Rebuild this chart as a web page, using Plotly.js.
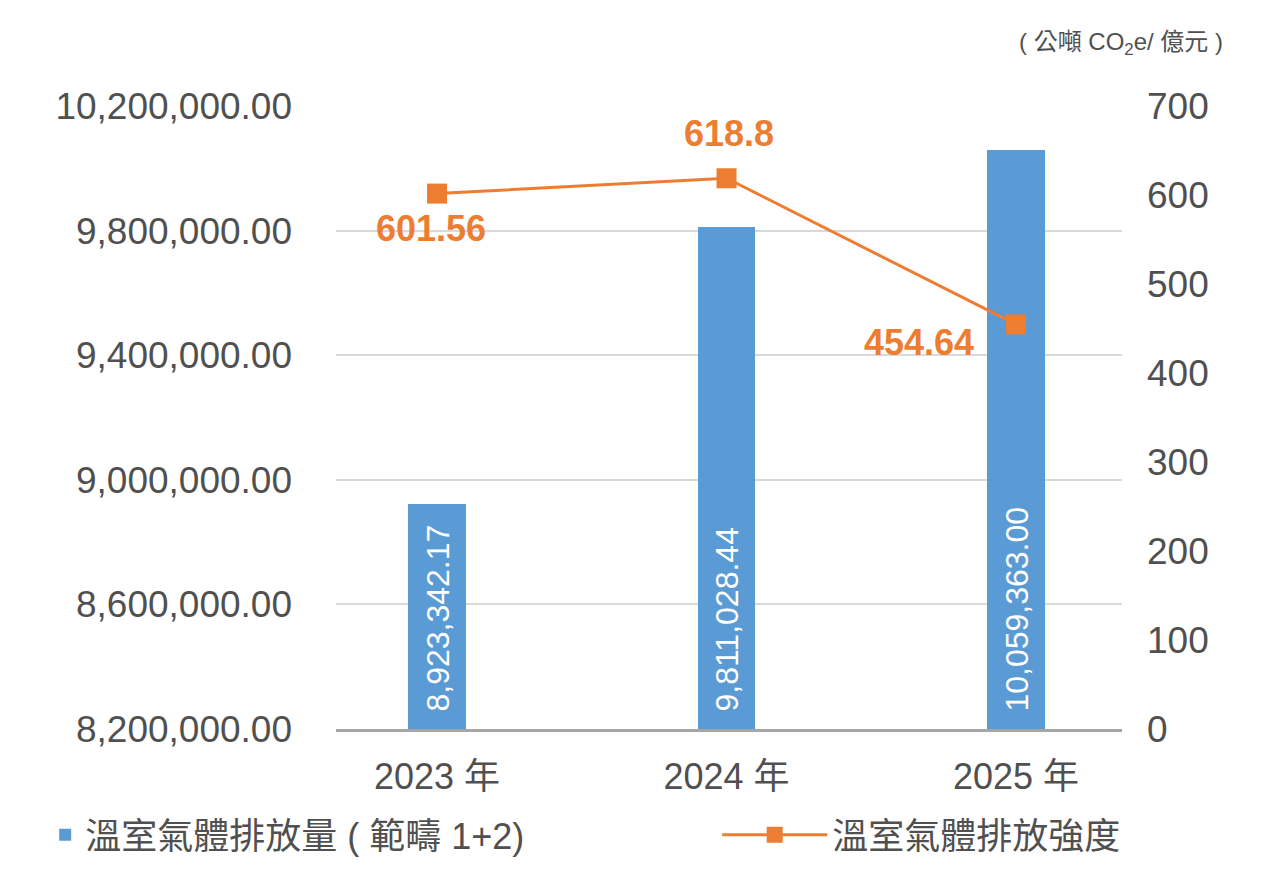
<!DOCTYPE html>
<html>
<head>
<meta charset="utf-8">
<script src="https://cdn.plot.ly/plotly-3.0.1.min.js"></script>
<style>html,body{margin:0;padding:0;background:#fff;}#chart{width:1268px;height:884px;}</style>
</head>
<body>
<div id="chart"></div>
<script>
const categories = ['2023 年', '2024 年', '2025 年'];
const emissions = [8923342.17, 9811028.44, 10059363.00];
const emissionLabels = ['8,923,342.17', '9,811,028.44', '10,059,363.00'];
const intensity = [601.56, 618.8, 454.64];
const intensityLabels = ['601.56', '618.8', '454.64'];
const leftTicks = [8200000, 8600000, 9000000, 9400000, 9800000, 10200000];
const seriesNames = ['溫室氣體排放量 ( 範疇 1+2)', '溫室氣體排放強度'];
const unitLabel = '( 公噸 CO<sub>2</sub>e/ 億元 )';

const FONT = "'Liberation Sans', Arial, 'Noto Sans CJK TC', sans-serif";
const GREY = '#505050';
const ORANGE = '#ed7d31';
const AXIS_MIN = leftTicks[0];
const AXIS_MAX = leftTicks[leftTicks.length - 1];

const bars = {
  type: 'bar',
  name: seriesNames[0],
  legend: 'legend',
  x: categories,
  base: categories.map(() => AXIS_MIN),
  y: emissions.map(v => v - AXIS_MIN),
  width: 0.2,
  marker: {color: '#5b9bd5'},
  hoverinfo: 'skip'
};

const line = {
  type: 'scatter',
  mode: 'lines+markers',
  name: seriesNames[1],
  legend: 'legend2',
  x: categories,
  y: intensity,
  yaxis: 'y2',
  line: {color: ORANGE, width: 3},
  marker: {symbol: 'square', size: 20, color: ORANGE},
  hoverinfo: 'skip'
};

const barAnnotations = categories.map((c, i) => ({
  x: c, y: AXIS_MIN, xref: 'x', yref: 'y',
  text: emissionLabels[i],
  showarrow: false,
  textangle: -90,
  xanchor: 'center', yanchor: 'bottom',
  yshift: 15,
  font: {family: FONT, size: 32, color: '#ffffff'}
}));

const labelShifts = [[-6, -35], [2, 45], [-97, -18]];
const lineAnnotations = categories.map((c, i) => ({
  x: c, y: intensity[i], xref: 'x', yref: 'y2',
  text: intensityLabels[i],
  showarrow: false,
  xanchor: 'center', yanchor: 'middle',
  xshift: labelShifts[i][0], yshift: labelShifts[i][1],
  font: {family: FONT, size: 36, color: ORANGE, weight: 'bold'}
}));

const layout = {
  width: 1268,
  height: 884,
  margin: {l: 336, r: 146, t: 106, b: 155},
  paper_bgcolor: '#ffffff',
  plot_bgcolor: '#ffffff',
  font: {family: FONT, size: 36, color: GREY},
  showlegend: true,
  bargap: 0,
  xaxis: {
    type: 'category',
    range: [-0.349, 2.366],
    showgrid: false,
    showline: true,
    linecolor: '#a6a6a6',
    linewidth: 3,
    ticks: '',
    ticklabelstandoff: 14,
    tickfont: {family: FONT, size: 36, color: GREY},
    fixedrange: true
  },
  yaxis: {
    range: [AXIS_MIN, AXIS_MAX],
    tickvals: leftTicks,
    tickformat: ',.2f',
    showgrid: true,
    gridcolor: '#d9d9d9',
    gridwidth: 2,
    zeroline: false,
    showline: false,
    ticks: '',
    ticklabelstandoff: 43,
    tickfont: {family: FONT, size: 37, color: GREY},
    fixedrange: true
  },
  yaxis2: {
    overlaying: 'y',
    side: 'right',
    range: [0, 700],
    dtick: 100,
    showgrid: false,
    zeroline: false,
    showline: false,
    ticks: '',
    ticklabelstandoff: 24,
    tickfont: {family: FONT, size: 37, color: GREY},
    fixedrange: true
  },
  legend: {
    orientation: 'h',
    x: -0.37,
    xanchor: 'left',
    y: -0.17,
    yanchor: 'middle',
    font: {family: FONT, size: 36, color: GREY},
    bgcolor: 'rgba(0,0,0,0)'
  },
  legend2: {
    orientation: 'h',
    x: 0.485,
    xanchor: 'left',
    y: -0.17,
    yanchor: 'middle',
    itemwidth: 105,
    font: {family: FONT, size: 36, color: GREY},
    bgcolor: 'rgba(0,0,0,0)'
  },
  annotations: barAnnotations.concat(lineAnnotations, [{
    xref: 'paper', yref: 'paper',
    x: 1.131, y: 1.101,
    xanchor: 'right', yanchor: 'middle',
    text: unitLabel,
    showarrow: false,
    font: {family: FONT, size: 24, color: GREY}
  }])
};

Plotly.newPlot('chart', [bars, line], layout, {displayModeBar: false, staticPlot: true});
</script>
</body>
</html>
